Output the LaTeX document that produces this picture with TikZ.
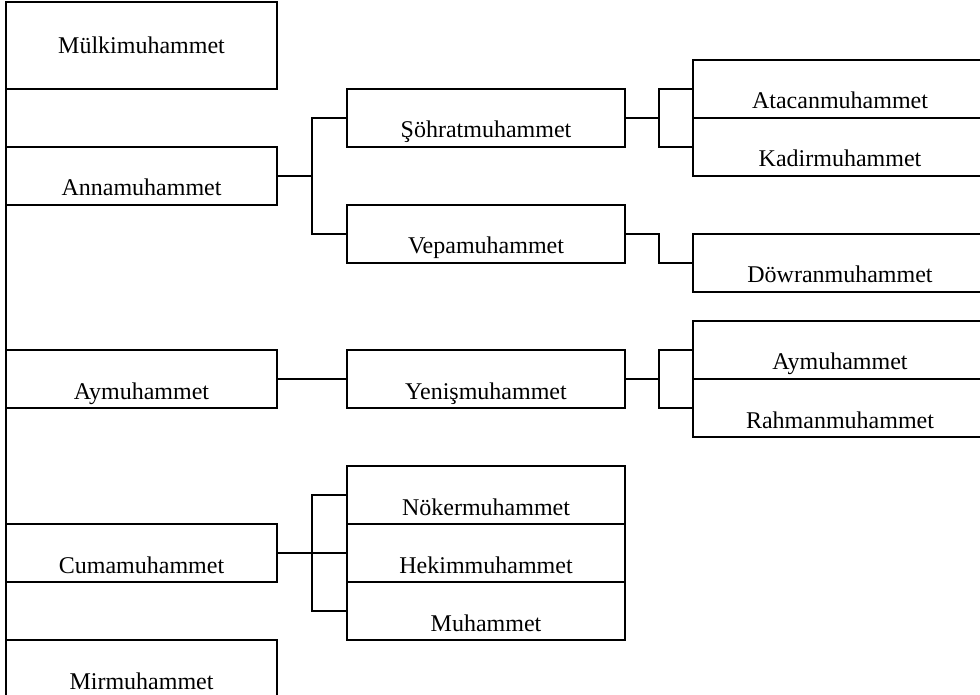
\documentclass[tikz,border=0pt]{standalone}
\usepackage{fontspec}
\setmainfont{Liberation Serif}
\usepackage{tikz}
\usetikzlibrary{positioning}

\tikzset{
  kisi/.style={draw, rectangle, line width=0.7pt, inner sep=0pt, outer sep=0pt,
    minimum height=29pt, text height=24.5pt, text depth=4.5pt,
    font=\fontsize{12pt}{14pt}\selectfont},
  sol/.style={kisi, minimum width=135.5pt},
  orta/.style={kisi, minimum width=139pt},
  sag/.style={kisi, minimum width=147pt},
  cizgi/.style={line width=0.7pt},
}

\begin{document}
\begin{tikzpicture}
  \useasboundingbox (0,0) rectangle (490pt,-347.5pt);
  \clip (0,0) rectangle (490pt,-347.5pt);
  % Sol sutun
  \node[sol, minimum height=43.5pt, text height=26pt, text depth=17.5pt, anchor=north west] (mulki) at (3pt,-1pt) {Mülkimuhammet};
  \node[sol, below=29pt of mulki] (anna) {Annamuhammet};
  \node[sol, below=72.5pt of anna] (aymu) {Aymuhammet};
  \node[sol, below=58pt of aymu] (cuma) {Cumamuhammet};
  \node[sol, below=29pt of cuma] (mir) {Mirmuhammet};

  % Orta sutun
  \node[orta, above right=0pt and 35pt of anna] (sohrat) {Şöhratmuhammet};
  \node[orta, below right=0pt and 35pt of anna] (vepa) {Vepamuhammet};
  \node[orta, right=35pt of aymu] (yenis) {Yenişmuhammet};
  \node[orta, right=35pt of cuma] (hekim) {Hekimmuhammet};
  \node[orta, above=0pt of hekim] (noker) {Nökermuhammet};
  \node[orta, below=0pt of hekim] (muh) {Muhammet};

  % Sag sutun
  \node[sag, above right=0pt and 34pt of sohrat.east] (atacan) {Atacanmuhammet};
  \node[sag, below right=0pt and 34pt of sohrat.east] (kadir) {Kadirmuhammet};
  \node[sag, below right=0pt and 34pt of vepa.east] (dowran) {Döwranmuhammet};
  \node[sag, above right=0pt and 34pt of yenis.east] (ay2) {Aymuhammet};
  \node[sag, below right=0pt and 34pt of yenis.east] (rahman) {Rahmanmuhammet};

  % Baglantilar
  \draw[cizgi] (mulki.south west) -- (mir.north west);
  \draw[cizgi] (anna.east) -- ++(17.5pt,0) |- (sohrat.west);
  \draw[cizgi] (anna.east) -- ++(17.5pt,0) |- (vepa.west);
  \draw[cizgi] (aymu.east) -- (yenis.west);
  \draw[cizgi] (cuma.east) -- ++(17.5pt,0) |- (noker.west);
  \draw[cizgi] (cuma.east) -- (hekim.west);
  \draw[cizgi] (cuma.east) -- ++(17.5pt,0) |- (muh.west);
  \draw[cizgi] (sohrat.east) -- ++(17pt,0) |- (atacan.west);
  \draw[cizgi] (sohrat.east) -- ++(17pt,0) |- (kadir.west);
  \draw[cizgi] (vepa.east) -- ++(17pt,0) |- (dowran.west);
  \draw[cizgi] (yenis.east) -- ++(17pt,0) |- (ay2.west);
  \draw[cizgi] (yenis.east) -- ++(17pt,0) |- (rahman.west);
\end{tikzpicture}
\end{document}
